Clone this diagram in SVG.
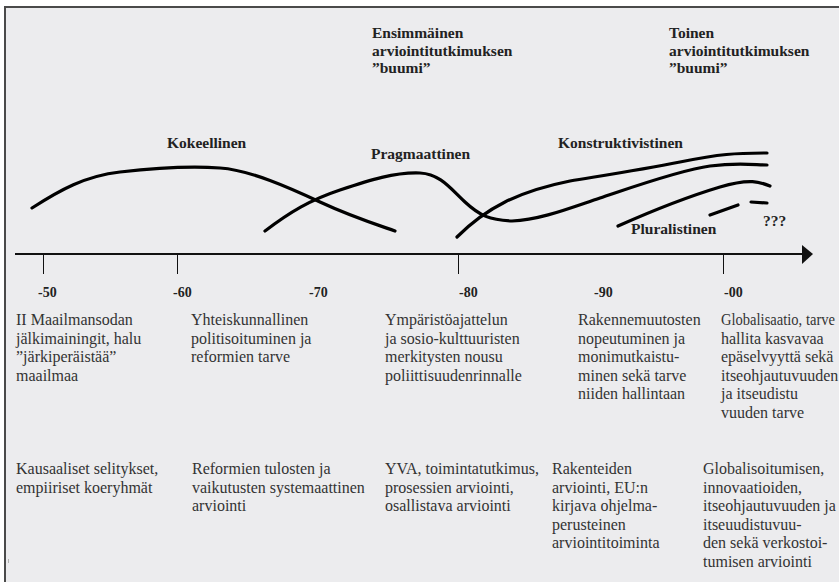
<svg xmlns="http://www.w3.org/2000/svg" width="839" height="582" viewBox="0 0 839 582">
  <defs>
    <style>
      .bg { fill: #ececee; }
      .frame { stroke: #4a4a4a; stroke-width: 2; fill: none; }
      .trend { fill: none; stroke: #000; stroke-width: 3.2; stroke-linecap: round; stroke-linejoin: round; }
      .axis { stroke: #111; stroke-width: 2; }
      .tick { stroke: #111; stroke-width: 1; }
      .head { font-family: "Liberation Serif", "Times New Roman", serif; font-size: 15.5px; font-weight: bold; fill: #222; }
      .year { font-family: "Liberation Serif", "Times New Roman", serif; font-size: 14px; font-weight: bold; fill: #222; }
      .body { font-family: "Liberation Serif", "Times New Roman", serif; font-size: 16px; fill: #333; }
    </style>
  </defs>

  <!-- page and frame -->
  <rect x="0" y="0" width="839" height="582" fill="#ffffff"/>
  <rect class="bg" x="5" y="7" width="834" height="575"/>
  <path class="frame" d="M5,582 V7 H839"/>
  <rect x="8" y="559" width="1" height="4" fill="#b0b0b0"/>

  <!-- paradigm trend lines -->
  <g id="connectors">
    <path id="kokeellinen-curve" class="trend" d="M32,208 C60,190 85,176 120,172 S190,166 220,168 C250,170 290,188 320,202 S375,224 395,231"/>
    <path id="pragmaattinen-curve" class="trend" d="M265,231 C290,212 310,200 340,190 S395,172 420,173 C440,174 450,188 465,202 S490,220 512,221 C540,220 570,208 600,198 S680,170 710,166 S755,165 767,165"/>
    <path id="konstruktivistinen-curve" class="trend" d="M457,237 C470,224 485,212 505,202 S545,186 570,181 C600,176 640,170 680,162 S735,153 767,153"/>
    <path id="pluralistinen-curve" class="trend" d="M618,226 C645,214 690,196 720,187 S760,182 770,186"/>
    <path id="future-curve" class="trend" stroke-width="4.2" d="M710,215 L738,205 M751,202 L767,203"/>
  </g>

  <!-- time axis -->
  <g id="axis">
    <line class="axis" x1="15" y1="254" x2="804" y2="254"/>
    <polygon points="802,245 813,254 802,264" fill="#111"/>
    <line class="tick" x1="43.5" y1="254" x2="43.5" y2="274"/>
    <line class="tick" x1="177.5" y1="254" x2="177.5" y2="274"/>
    <line class="tick" x1="458.5" y1="254" x2="458.5" y2="274"/>
    <line class="tick" x1="723.5" y1="254" x2="723.5" y2="274"/>
  </g>

  <!-- boom headings -->
  <g id="boom1" class="head">
    <text x="372" y="38">Ensimmäinen</text>
    <text x="372" y="56">arviointitutkimuksen</text>
    <text x="372" y="73">”buumi”</text>
  </g>
  <g id="boom2" class="head">
    <text x="669" y="38">Toinen</text>
    <text x="669" y="56">arviointitutkimuksen</text>
    <text x="669" y="73">”buumi”</text>
  </g>

  <!-- paradigm labels -->
  <g id="kokeellinen"><text class="head" x="167" y="148">Kokeellinen</text></g>
  <g id="pragmaattinen"><text class="head" x="371" y="159">Pragmaattinen</text></g>
  <g id="konstruktivistinen"><text class="head" x="558" y="148">Konstruktivistinen</text></g>
  <g id="pluralistinen"><text class="head" x="631" y="234">Pluralistinen</text></g>
  <g id="tulevaisuus"><text class="head" x="763" y="226">???</text></g>

  <!-- decades -->
  <g id="years" class="year">
    <text x="38" y="297">-50</text>
    <text x="173" y="297">-60</text>
    <text x="309" y="297">-70</text>
    <text x="459" y="297">-80</text>
    <text x="594" y="297">-90</text>
    <text x="724" y="297">-00</text>
  </g>

  <!-- societal background per decade -->
  <g id="tausta-50" class="body">
    <text x="16" y="325">II Maailmansodan</text>
    <text x="16" y="343.5">jälkimainingit, halu</text>
    <text x="16" y="362">”järkiperäistää”</text>
    <text x="16" y="380.5">maailmaa</text>
  </g>
  <g id="tausta-60" class="body">
    <text x="191" y="325">Yhteiskunnallinen</text>
    <text x="191" y="343.5">politisoituminen ja</text>
    <text x="191" y="362">reformien tarve</text>
  </g>
  <g id="tausta-70" class="body">
    <text x="385" y="325">Ympäristöajattelun</text>
    <text x="385" y="343.5">ja sosio-kulttuuristen</text>
    <text x="385" y="362">merkitysten nousu</text>
    <text x="385" y="380.5">poliittisuudenrinnalle</text>
  </g>
  <g id="tausta-80" class="body">
    <text x="578" y="325">Rakennemuutosten</text>
    <text x="578" y="343.5">nopeutuminen ja</text>
    <text x="578" y="362">monimutkaistu-</text>
    <text x="578" y="380.5">minen sekä tarve</text>
    <text x="578" y="399">niiden hallintaan</text>
  </g>
  <g id="tausta-90" class="body">
    <text x="721" y="325" textLength="114" lengthAdjust="spacingAndGlyphs">Globalisaatio, tarve</text>
    <text x="721" y="343.5">hallita kasvavaa</text>
    <text x="721" y="362">epäselvyyttä sekä</text>
    <text x="721" y="380.5">itseohjautuvuuden</text>
    <text x="721" y="399">ja itseudistu</text>
    <text x="721" y="417.5">vuuden tarve</text>
  </g>

  <!-- evaluation focus per decade -->
  <g id="arviointi-50" class="body">
    <text x="16" y="474">Kausaaliset selitykset,</text>
    <text x="16" y="492.5">empiiriset koeryhmät</text>
  </g>
  <g id="arviointi-60" class="body">
    <text x="192" y="474">Reformien tulosten ja</text>
    <text x="192" y="492.5">vaikutusten systemaattinen</text>
    <text x="192" y="511">arviointi</text>
  </g>
  <g id="arviointi-70" class="body">
    <text x="385" y="474">YVA, toimintatutkimus,</text>
    <text x="385" y="492.5">prosessien arviointi,</text>
    <text x="385" y="511">osallistava arviointi</text>
  </g>
  <g id="arviointi-80" class="body">
    <text x="552" y="474">Rakenteiden</text>
    <text x="552" y="492.5">arviointi, EU:n</text>
    <text x="552" y="511">kirjava ohjelma-</text>
    <text x="552" y="529.5">perusteinen</text>
    <text x="552" y="548">arviointitoiminta</text>
  </g>
  <g id="arviointi-90" class="body">
    <text x="703" y="474">Globalisoitumisen,</text>
    <text x="703" y="492.5">innovaatioiden,</text>
    <text x="703" y="511">itseohjautuvuuden ja</text>
    <text x="703" y="529.5">itseuudistuvuu-</text>
    <text x="703" y="548">den sekä verkostoi-</text>
    <text x="703" y="566.5">tumisen arviointi</text>
  </g>
</svg>
